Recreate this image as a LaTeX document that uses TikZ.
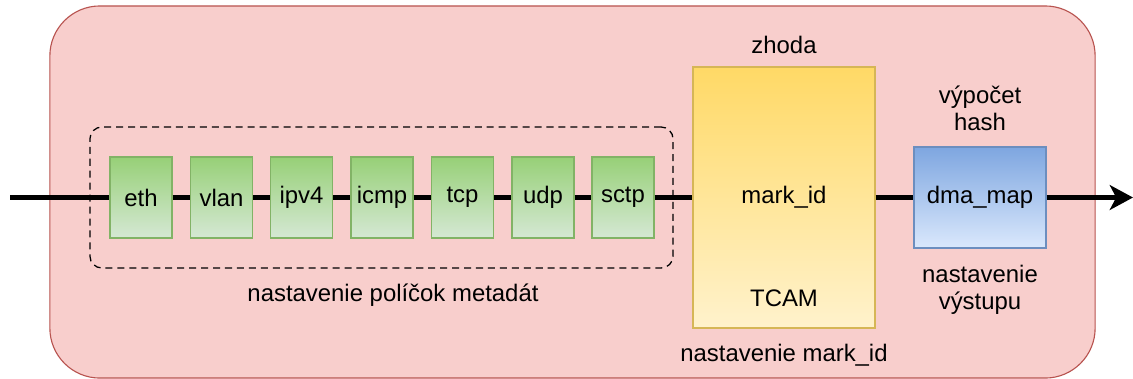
\documentclass[tikz,border=0pt]{standalone}
\usepackage{fontspec}
\setmainfont{Liberation Sans}
\usepackage{xcolor}
\usetikzlibrary{arrows.meta,positioning,calc}
\definecolor{panelfill}{HTML}{F8CECC}
\definecolor{panelline}{HTML}{B85450}
\definecolor{fieldtop}{HTML}{97D077}
\definecolor{fieldbot}{HTML}{D5E8D4}
\definecolor{fieldline}{HTML}{82B366}
\definecolor{tcamtop}{HTML}{FFD966}
\definecolor{tcambot}{HTML}{FFF2CC}
\definecolor{tcamline}{HTML}{D6B656}
\definecolor{dmatop}{HTML}{7EA6E0}
\definecolor{dmabot}{HTML}{DAE8FC}
\definecolor{dmaline}{HTML}{6C8EBF}

\begin{document}
\begin{tikzpicture}[
    x=0.025cm, y=-0.025cm,
    font=\fontsize{17}{19.2}\selectfont,
    panel/.style={draw=panelline, line width=0.8pt, fill=panelfill, rounded corners=1.25cm},
    group/.style={draw, dashed, dash pattern=on 5pt off 3.5pt, line width=0.9pt, rounded corners=0.3cm},
    field/.style={draw=fieldline, line width=0.9pt, top color=fieldtop, bottom color=fieldbot, minimum width=1.55cm, minimum height=2.025cm, inner sep=0pt},
    tcambox/.style={draw=tcamline, line width=0.9pt, top color=tcamtop, bottom color=tcambot, minimum width=4.55cm, minimum height=6.525cm, inner sep=0pt},
    dmabox/.style={draw=dmaline, line width=0.9pt, top color=dmatop, bottom color=dmabot, minimum width=3.3cm, minimum height=2.525cm, inner sep=0pt},
    lbl/.style={align=center, inner sep=0pt},
    ar/.style={line width=3pt},
  ]
    \useasboundingbox (0,0) rectangle (1133,378);
    \node[panel, minimum width=26.125cm, minimum height=9.3cm] (panel) at (572.5,192) {};
    \node[group, minimum width=14.575cm, minimum height=3.525cm] (meta) at (381.5,197.5) {};
    \node[field] (eth) at (141,197.5) {eth};
    \node[field] (vlan) at (221.5,197.5) {vlan};
    \node[field] (ipv4) at (301.5,197.5) {ipv4};
    \node[field] (icmp) at (382,197.5) {icmp};
    \node[field] (tcp) at (462.5,197.5) {tcp};
    \node[field] (udp) at (543,197.5) {udp};
    \node[field] (sctp) at (623,197.5) {sctp};
    \node[tcambox] (tcam) at (784,197.5) {mark\_id};
    \node[lbl] (tcamname) at (784,298) {TCAM};
    \node[dmabox] (dma) at (980,197.5) {dma\_map};
    \node[lbl] (metalbl) at (393,295) {nastavenie políčok metadát};
    \node[lbl] (zhoda) at (784,45) {zhoda};
    \node[lbl] (marklbl) at (784,355) {nastavenie mark\_id};
    \node[lbl] (hashlbl) at (980,108) {výpočet\\hash};
    \node[lbl] (outlbl) at (980,290) {nastavenie\\výstupu};
    \coordinate (in) at (10,197.5);
    \coordinate (out) at (1133,197.5);
    \draw[ar] (in) -- (eth);
    \draw[ar] (eth) -- (vlan);
    \draw[ar] (vlan) -- (ipv4);
    \draw[ar] (ipv4) -- (icmp);
    \draw[ar] (icmp) -- (tcp);
    \draw[ar] (tcp) -- (udp);
    \draw[ar] (udp) -- (sctp);
    \draw[ar] (sctp) -- (tcam);
    \draw[ar] (tcam) -- (dma);
    \draw[ar, -{Stealth[length=0.58cm, width=0.62cm, inset=0.16cm]}] (dma) -- (out);
  \end{tikzpicture}
\end{document}
